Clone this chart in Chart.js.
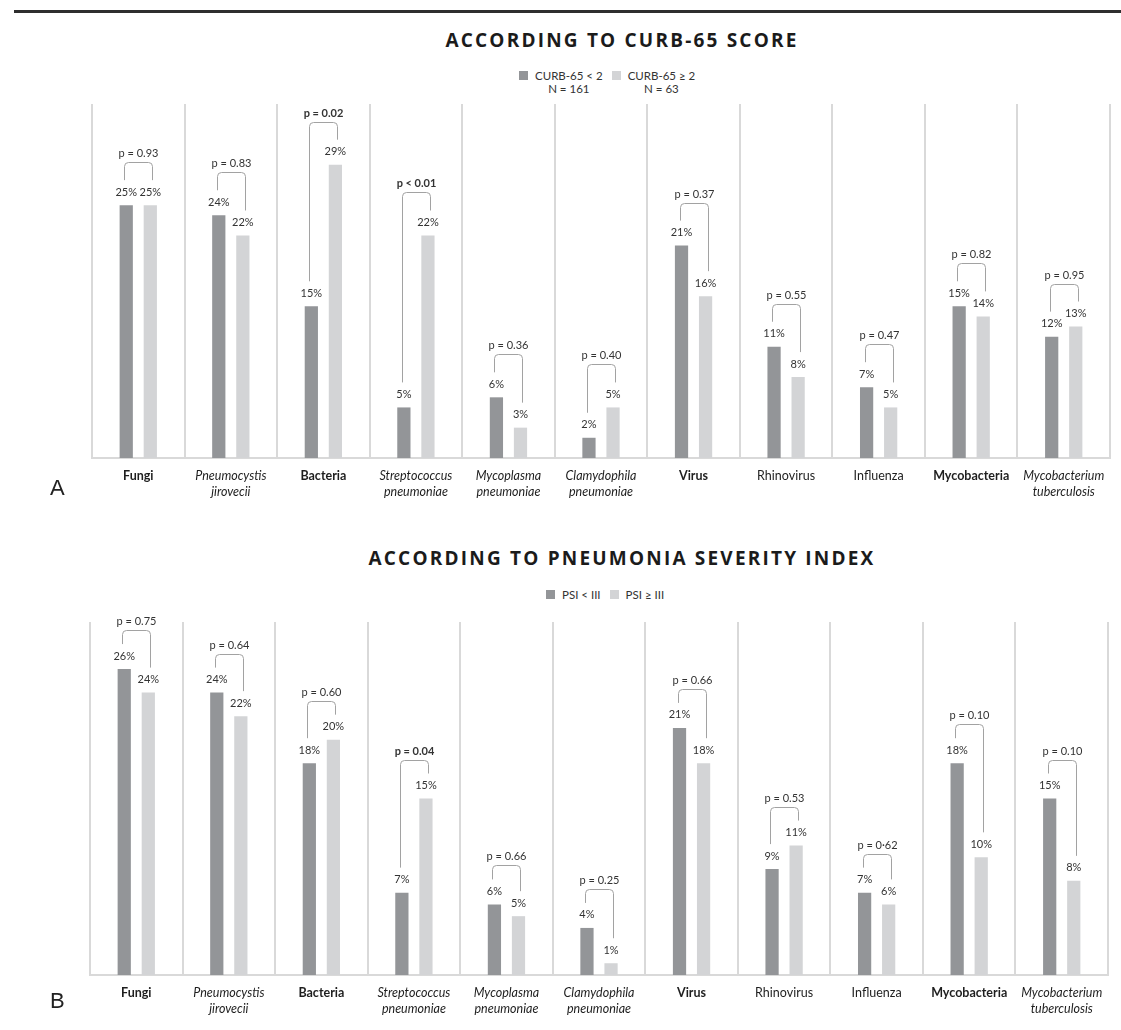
<!DOCTYPE html>
<html>
<head>
<meta charset="utf-8">
<script src="https://cdn.jsdelivr.net/npm/chart.js@4.4.1/dist/chart.umd.min.js"></script>
<style>
    body { margin: 0; background: #fff; width: 1121px; height: 1030px; position: relative; overflow: hidden; font-family: Lato, "Open Sans", sans-serif; }
    .rule { position: absolute; left: 14px; top: 10px; width: 1107px; height: 3px; background: #2e2e2e; }
    .title { position: absolute; left: 322px; width: 600px; text-align: center; font-family: "Open Sans", sans-serif; font-weight: 700; font-size: 19px; letter-spacing: 2.2px; color: #1b1b1b; }
    .panel { position: absolute; left: 50px; font-family: "Liberation Sans", Arial, sans-serif; font-size: 22px; color: #222; }
    .legend { position: absolute; display: flex; font-size: 11.5px; color: #333; line-height: 13px; }
    .legend .item { display: flex; align-items: flex-start; margin-right: 9px; }
    .legend .box { width: 9px; height: 9px; margin: 2px 7px 0 0; }
    .legend .txt { text-align: center; }
    canvas { position: absolute; left: 0; }
</style>
</head>
<body>
<div class="rule"></div>

<div class="title" style="top: 27px;">ACCORDING TO CURB-65 SCORE</div>
<div class="legend" id="legendA" style="left: 519px; top: 69px;"></div>
<canvas id="chartA" width="1121" height="420" style="top: 95px;"></canvas>
<div class="panel" style="top: 475px;">A</div>

<div class="title" style="top: 545px;">ACCORDING TO PNEUMONIA SEVERITY INDEX</div>
<div class="legend" id="legendB" style="left: 546px; top: 588px;"></div>
<canvas id="chartB" width="1121" height="415" style="top: 612px;"></canvas>
<div class="panel" style="top: 988px;">B</div>

<script>
// categories (both panels)
const categories = [
    ['Fungi'], ['Pneumocystis', 'jirovecii'], ['Bacteria'], ['Streptococcus', 'pneumoniae'],
    ['Mycoplasma', 'pneumoniae'], ['Clamydophila', 'pneumoniae'], ['Virus'], ['Rhinovirus'],
    ['Influenza'], ['Mycobacteria'], ['Mycobacterium', 'tuberculosis']
];
const categoryStyle = ['bold', 'italic', 'bold', 'italic', 'italic', 'italic', 'bold', 'normal', 'normal', 'bold', 'italic'];

// panel A - CURB-65
const curbLow = [25, 24, 15, 5, 6, 2, 21, 11, 7, 15, 12];
const curbHigh = [25, 22, 29, 22, 3, 5, 16, 8, 5, 14, 13];
const curbP = ['= 0.93', '= 0.83', '= 0.02', '< 0.01', '= 0.36', '= 0.40', '= 0.37', '= 0.55', '= 0.47', '= 0.82', '= 0.95'];

// panel B - PSI
const psiLow = [26, 24, 18, 7, 6, 4, 21, 9, 7, 18, 15];
const psiHigh = [24, 22, 20, 15, 5, 1, 18, 11, 6, 10, 8];
const psiP = ['= 0.75', '= 0.64', '= 0.60', '= 0.04', '= 0.66', '= 0.25', '= 0.66', '= 0.53', '= 0·62', '= 0.10', '= 0.10'];

const DARK = '#939598';
const LIGHT = '#d3d4d6';

function isSignificant(p) {
    if (p.startsWith('<')) return true;
    return parseFloat(p.replace('=', '').replace('·', '.')) < 0.05;
}

const annotate = {
    id: 'annotate',
    afterDatasetsDraw(chart, args, opts) {
        const ctx = chart.ctx;
        const lows = chart.getDatasetMeta(0).data;
        const highs = chart.getDatasetMeta(1).data;
        const ds = chart.data.datasets;
        ctx.save();
        ctx.textAlign = 'center';
        ctx.textBaseline = 'middle';
        lows.forEach((b1, i) => {
            const b2 = highs[i];
            ctx.fillStyle = '#333';
            ctx.font = '11px Lato';
            ctx.fillText(ds[0].data[i] + '%', b1.x, b1.y - 13);
            ctx.fillText(ds[1].data[i] + '%', b2.x, b2.y - 13);

            const top = Math.round(Math.min(b1.y, b2.y) - opts.gap) + 0.5;
            const l = Math.round(b1.x - 2) + 0.5;
            const r = Math.round(b2.x + 2) + 0.5;
            ctx.strokeStyle = '#a2a2a2';
            ctx.lineWidth = 1;
            ctx.beginPath();
            ctx.moveTo(l, b1.y - 25);
            ctx.arcTo(l, top, r, top, 4);
            ctx.arcTo(r, top, r, b2.y - 25, 4);
            ctx.lineTo(r, b2.y - 25);
            ctx.stroke();

            const p = opts.pValues[i];
            ctx.font = (isSignificant(p) ? 'bold ' : '') + '11px Lato';
            ctx.fillText('p ' + p, (l + r) / 2, top - 9);
        });
        ctx.restore();
    }
};

function makeChart(id, labels, low, high, pValues, yMax, pad, axisHeight, gap) {
    return new Chart(document.getElementById(id), {
        type: 'bar',
        data: {
            labels: categories,
            datasets: [{
                label: labels[0],
                data: low,
                backgroundColor: DARK,
                categoryPercentage: 0.52,
                barPercentage: 0.55
            }, {
                label: labels[1],
                data: high,
                backgroundColor: LIGHT,
                categoryPercentage: 0.52,
                barPercentage: 0.55
            }]
        },
        options: {
            responsive: false,
            animation: false,
            layout: { padding: pad },
            plugins: {
                legend: { display: false },
                tooltip: { enabled: false },
                annotate: { pValues: pValues, gap: gap }
            },
            scales: {
                x: {
                    grid: { color: '#d9d9d9', lineWidth: 2, drawTicks: false, offset: true },
                    border: { color: '#d9d9d9', width: 2 },
                    afterFit: scale => { scale.height = axisHeight; },
                    ticks: {
                        padding: 10,
                        color: '#1e1e1e',
                        maxRotation: 0,
                        autoSkip: false,
                        font: c => ({
                            family: 'Lato',
                            size: 12.5,
                            lineHeight: 1.3,
                            style: categoryStyle[c.index] === 'italic' ? 'italic' : 'normal',
                            weight: categoryStyle[c.index] === 'bold' ? 'bold' : 'normal'
                        })
                    }
                },
                y: { display: false, min: 0, max: yMax }
            }
        },
        plugins: [annotate]
    });
}

function buildLegend(id, items) {
    const el = document.getElementById(id);
    items.forEach(it => {
        const d = document.createElement('div');
        d.className = 'item';
        d.innerHTML = `<div class="box" style="background:${it.color}"></div><div class="txt">${it.lines.join('<br>')}</div>`;
        el.appendChild(d);
    });
}

buildLegend('legendA', [
    { color: DARK, lines: ['CURB-65 &lt; 2', 'N = 161'] },
    { color: LIGHT, lines: ['CURB-65 ≥ 2', 'N = 63'] }
]);
buildLegend('legendB', [
    { color: DARK, lines: ['PSI &lt; III'] },
    { color: LIGHT, lines: ['PSI ≥ III'] }
]);

makeChart('chartA', ['CURB-65 < 2', 'CURB-65 ≥ 2'], curbLow, curbHigh, curbP, 35,
    { left: 92, right: 11, top: 9, bottom: 0 }, 57, 43);
makeChart('chartB', ['PSI < III', 'PSI ≥ III'], psiLow, psiHigh, psiP, 30,
    { left: 90, right: 13, top: 10, bottom: 0 }, 52, 39);
</script>
</body>
</html>
